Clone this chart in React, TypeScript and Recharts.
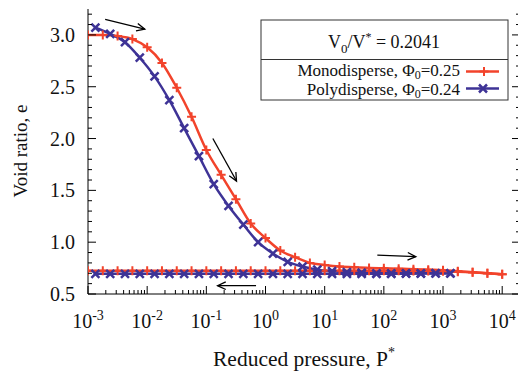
import React from 'react';
import { LineChart, Line, XAxis, YAxis, ReferenceLine } from 'recharts';

// ---------- data ----------
const monoLoadLogP = [-3, -2.75, -2.5, -2.25, -2, -1.75, -1.5, -1.25, -1, -0.75, -0.5, -0.25, 0, 0.25, 0.5, 0.75, 1, 1.25, 1.5, 1.75, 2, 2.25, 2.5, 2.75, 3, 3.25, 3.5, 3.75, 4];
const monoLoadE = [3.0, 3.0, 2.99, 2.96, 2.88, 2.73, 2.49, 2.21, 1.89, 1.65, 1.415, 1.18, 1.04, 0.92, 0.855, 0.8, 0.78, 0.765, 0.757, 0.752, 0.748, 0.744, 0.74, 0.735, 0.73, 0.72, 0.71, 0.7, 0.69];

const monoUnloadLogP = [4, 3.75, 3.5, 3.25, 3, 2.75, 2.5, 2.25, 2, 1.75, 1.5, 1.25, 1, 0.75, 0.5, 0.25, 0, -0.25, -0.5, -0.75, -1, -1.25, -1.5, -1.75, -2, -2.25, -2.5, -2.75, -3];
const monoUnloadE = [0.69, 0.7, 0.71, 0.715, 0.72, 0.722, 0.723, 0.724, 0.725, 0.725, 0.725, 0.725, 0.725, 0.725, 0.725, 0.725, 0.725, 0.725, 0.725, 0.725, 0.725, 0.725, 0.725, 0.725, 0.725, 0.725, 0.725, 0.725, 0.725];

const polyLoadLogP = [-2.875, -2.625, -2.375, -2.125, -1.875, -1.625, -1.375, -1.125, -0.875, -0.625, -0.375, -0.125, 0.125, 0.375, 0.625, 0.875, 1.125, 1.375, 1.625, 1.875, 2.125, 2.375, 2.625, 2.875, 3.125];
const polyLoadE = [3.07, 3.01, 2.93, 2.78, 2.6, 2.37, 2.1, 1.83, 1.56, 1.35, 1.17, 1.0, 0.89, 0.81, 0.765, 0.735, 0.72, 0.71, 0.705, 0.7, 0.7, 0.7, 0.7, 0.7, 0.7];

const polyUnloadLogP = [3.125, 2.875, 2.625, 2.375, 2.125, 1.875, 1.625, 1.375, 1.125, 0.875, 0.625, 0.375, 0.125, -0.125, -0.375, -0.625, -0.875, -1.125, -1.375, -1.625, -1.875, -2.125, -2.375, -2.625, -2.875];
const polyUnloadE = [0.7, 0.698, 0.697, 0.696, 0.695, 0.695, 0.695, 0.695, 0.695, 0.695, 0.695, 0.695, 0.695, 0.695, 0.695, 0.695, 0.695, 0.695, 0.695, 0.695, 0.695, 0.695, 0.695, 0.695, 0.695];

// arrows: start / end in data coordinates (log10 P, e)
const arrowStartLogP = [-2.71, -0.89, 1.89, -0.16];
const arrowStartE = [3.15, 2.0, 0.876, 0.58];
const arrowEndLogP = [-2.04, -0.49, 2.54, -0.81];
const arrowEndE = [3.055, 1.59, 0.86, 0.58];

// ticks
const xMajorExp = [-3, -2, -1, 0, 1, 2, 3, 4];
const xMinorMult = [2, 3, 4, 5, 6, 7, 8, 9];
const yMajorTicks = [0.5, 1.0, 1.5, 2.0, 2.5, 3.0];
const yMinorTicks = [0.6, 0.7, 0.8, 0.9, 1.1, 1.2, 1.3, 1.4, 1.6, 1.7, 1.8, 1.9, 2.1, 2.2, 2.3, 2.4, 2.6, 2.7, 2.8, 2.9, 3.1, 3.2];

const xTicks: number[] = [];
xMajorExp.forEach((ex) => {
  xTicks.push(Math.pow(10, ex));
  xMinorMult.forEach((m) => {
    const v = m * Math.pow(10, ex);
    if (v <= 20000) xTicks.push(v);
  });
});
const yTicks = [...yMajorTicks, ...yMinorTicks].sort((a, b) => a - b);

const toPoints = (lp: number[], e: number[]) => lp.map((l, i) => ({ p: Math.pow(10, l), e: e[i] }));
const monoLoad = toPoints(monoLoadLogP, monoLoadE);
const monoUnload = toPoints(monoUnloadLogP, monoUnloadE);
const polyLoad = toPoints(polyLoadLogP, polyLoadE);
const polyUnload = toPoints(polyUnloadLogP, polyUnloadE);

const RED = '#f2432b';
const BLUE = '#3e3396';
const FONT = '"Liberation Serif", serif';

const isMajorX = (v: number) => {
  const ex = Math.log10(v);
  return Math.abs(ex - Math.round(ex)) < 1e-6;
};
const isMajorY = (v: number) => yMajorTicks.some((t) => Math.abs(t - v) < 1e-6);

const XTickBottom = (props: any) => {
  const { x, y, payload } = props;
  const major = isMajorX(payload.value);
  const ex = Math.round(Math.log10(payload.value));
  return (
    <g>
      <line x1={x} y1={y} x2={x} y2={y - (major ? 8 : 4)} stroke="#000" strokeWidth={1} />
      {major && (
        <text x={x} y={y + 34} textAnchor="middle" fontFamily={FONT} fontSize={20} fill="#111">
          10<tspan dy={-8} fontSize={14}>{String(ex)}</tspan>
        </text>
      )}
    </g>
  );
};
const XTickTop = (props: any) => {
  const { x, y, payload } = props;
  const major = isMajorX(payload.value);
  return <line x1={x} y1={y} x2={x} y2={y + (major ? 8 : 4)} stroke="#000" strokeWidth={1} />;
};
const YTickLeft = (props: any) => {
  const { x, y, payload } = props;
  const major = isMajorY(payload.value);
  return (
    <g>
      <line x1={x} y1={y} x2={x + (major ? 8 : 4)} y2={y} stroke="#000" strokeWidth={1} />
      {major && (
        <text x={x - 13} y={y + 7} textAnchor="end" fontFamily={FONT} fontSize={20} fill="#111">
          {payload.value.toFixed(1)}
        </text>
      )}
    </g>
  );
};
const YTickRight = (props: any) => {
  const { x, y, payload } = props;
  const major = isMajorY(payload.value);
  return <line x1={x} y1={y} x2={x - (major ? 8 : 4)} y2={y} stroke="#000" strokeWidth={1} />;
};

const PlusDot = (props: any) => {
  const { cx, cy } = props;
  if (cx == null || cy == null) return <g />;
  const r = 4.5;
  return <path d={`M${cx - r},${cy}H${cx + r}M${cx},${cy - r}V${cy + r}`} stroke={RED} strokeWidth={2} fill="none" />;
};
const CrossDot = (props: any) => {
  const { cx, cy } = props;
  if (cx == null || cy == null) return <g />;
  const r = 4;
  return <path d={`M${cx - r},${cy - r}L${cx + r},${cy + r}M${cx - r},${cy + r}L${cx + r},${cy - r}`} stroke={BLUE} strokeWidth={2.5} fill="none" />;
};

const ArrowShape = (props: any) => {
  const { x1, y1, x2, y2 } = props;
  if ([x1, y1, x2, y2].some((v) => v == null || isNaN(v))) return <g />;
  const ang = Math.atan2(y2 - y1, x2 - x1);
  const L = 9;
  const a = (25 * Math.PI) / 180;
  const hx1 = x2 - L * Math.cos(ang - a);
  const hy1 = y2 - L * Math.sin(ang - a);
  const hx2 = x2 - L * Math.cos(ang + a);
  const hy2 = y2 - L * Math.sin(ang + a);
  return (
    <g>
      <line x1={x1} y1={y1} x2={x2} y2={y2} stroke="#000" strokeWidth={1.3} />
      <path d={`M${hx1},${hy1}L${x2},${y2}L${hx2},${hy2}`} stroke="#000" strokeWidth={1.3} fill="none" />
    </g>
  );
};

export default function App() {
  return (
    <div style={{ position: 'fixed', left: 0, top: 0, width: 518, height: 372, overflow: 'hidden', background: '#fff' }}>
      <LineChart width={530} height={372} margin={{ top: 9, right: 0, bottom: 0, left: 0 }}>
        <XAxis
          xAxisId="b"
          dataKey="p"
          type="number"
          scale="log"
          domain={[0.001, 20000]}
          allowDataOverflow
          ticks={xTicks}
          interval={0}
          height={78}
          tickSize={0}
          tickMargin={0}
          tickLine={false}
          tick={<XTickBottom />}
          axisLine={{ stroke: '#000', strokeWidth: 1 }}
        />
        <XAxis
          xAxisId="t"
          orientation="top"
          dataKey="p"
          type="number"
          scale="log"
          domain={[0.001, 20000]}
          allowDataOverflow
          ticks={xTicks}
          interval={0}
          height={0}
          tickSize={0}
          tickMargin={0}
          tickLine={false}
          tick={<XTickTop />}
          axisLine={{ stroke: '#000', strokeWidth: 1 }}
        />
        <YAxis
          yAxisId="l"
          type="number"
          domain={[0.5, 3.25]}
          allowDataOverflow
          ticks={yTicks}
          interval={0}
          width={88}
          tickSize={0}
          tickMargin={0}
          tickLine={false}
          tick={<YTickLeft />}
          axisLine={{ stroke: '#000', strokeWidth: 1 }}
        />
        <YAxis
          yAxisId="r"
          orientation="right"
          type="number"
          domain={[0.5, 3.25]}
          allowDataOverflow
          ticks={yTicks}
          interval={0}
          width={10}
          tickSize={0}
          tickMargin={0}
          tickLine={false}
          tick={<YTickRight />}
          axisLine={{ stroke: '#000', strokeWidth: 1 }}
        />
        <Line
          xAxisId="b"
          yAxisId="l"
          data={monoLoad}
          dataKey="e"
          type="monotone"
          stroke={RED}
          strokeWidth={2.5}
          dot={(p: any) => <PlusDot key={`ml${p.index}`} {...p} />}
          isAnimationActive={false}
        />
        <Line
          xAxisId="b"
          yAxisId="l"
          data={monoUnload}
          dataKey="e"
          type="linear"
          stroke={RED}
          strokeWidth={2.5}
          dot={(p: any) => <PlusDot key={`mu${p.index}`} {...p} />}
          isAnimationActive={false}
        />
        <Line
          xAxisId="b"
          yAxisId="l"
          data={polyLoad}
          dataKey="e"
          type="monotone"
          stroke={BLUE}
          strokeWidth={2.5}
          dot={(p: any) => <CrossDot key={`pl${p.index}`} {...p} />}
          isAnimationActive={false}
        />
        <Line
          xAxisId="b"
          yAxisId="l"
          data={polyUnload}
          dataKey="e"
          type="linear"
          stroke={BLUE}
          strokeWidth={2.5}
          dot={(p: any) => <CrossDot key={`pu${p.index}`} {...p} />}
          isAnimationActive={false}
        />
        {arrowStartLogP.map((s, i) => (
          <ReferenceLine
            key={`arr${i}`}
            xAxisId="b"
            yAxisId="l"
            ifOverflow="visible"
            segment={[
              { x: Math.pow(10, s), y: arrowStartE[i] },
              { x: Math.pow(10, arrowEndLogP[i]), y: arrowEndE[i] },
            ]}
            shape={(p: any) => <ArrowShape {...p} />}
          />
        ))}
      </LineChart>
      <svg width={518} height={372} style={{ position: 'absolute', left: 0, top: 0, pointerEvents: 'none' }}>
        {/* axis titles */}
        <text x={304} y={366} textAnchor="middle" fontFamily={FONT} fontSize={21.5} fill="#111">
          Reduced pressure, P<tspan dy={-9} fontSize={14}>*</tspan>
        </text>
        <text
          transform="translate(27,151) rotate(-90)"
          x={0}
          y={0}
          textAnchor="middle"
          fontFamily={FONT}
          fontSize={19}
          fill="#111"
        >
          Void ratio, e
        </text>
        {/* key box */}
        <rect x={261} y={20} width={247} height={80} fill="#fff" stroke="#333" strokeWidth={1} />
        <line x1={261} y1={59.5} x2={508} y2={59.5} stroke="#333" strokeWidth={1} />
        <text x={384} y={48} textAnchor="middle" fontFamily={FONT} fontSize={18} fill="#111">
          V<tspan dy={5} fontSize={13}>0</tspan>
          <tspan dy={-5}>/V</tspan>
          <tspan dy={-7} fontSize={12}>*</tspan>
          <tspan dy={7}> = 0.2041</tspan>
        </text>
        <text x={460} y={76} textAnchor="end" fontFamily={FONT} fontSize={17} fill="#111">
          Monodisperse, Φ<tspan dy={3} fontSize={12}>0</tspan>
          <tspan dy={-3}>=0.25</tspan>
        </text>
        <text x={460} y={95} textAnchor="end" fontFamily={FONT} fontSize={17} fill="#111">
          Polydisperse, Φ<tspan dy={3} fontSize={12}>0</tspan>
          <tspan dy={-3}>=0.24</tspan>
        </text>
        <line x1={466} y1={71.5} x2={499} y2={71.5} stroke={RED} strokeWidth={2.5} />
        <PlusDot cx={484} cy={71.5} />
        <line x1={466} y1={88.5} x2={499} y2={88.5} stroke={BLUE} strokeWidth={2.5} />
        <CrossDot cx={483} cy={88.5} />
      </svg>
    </div>
  );
}
